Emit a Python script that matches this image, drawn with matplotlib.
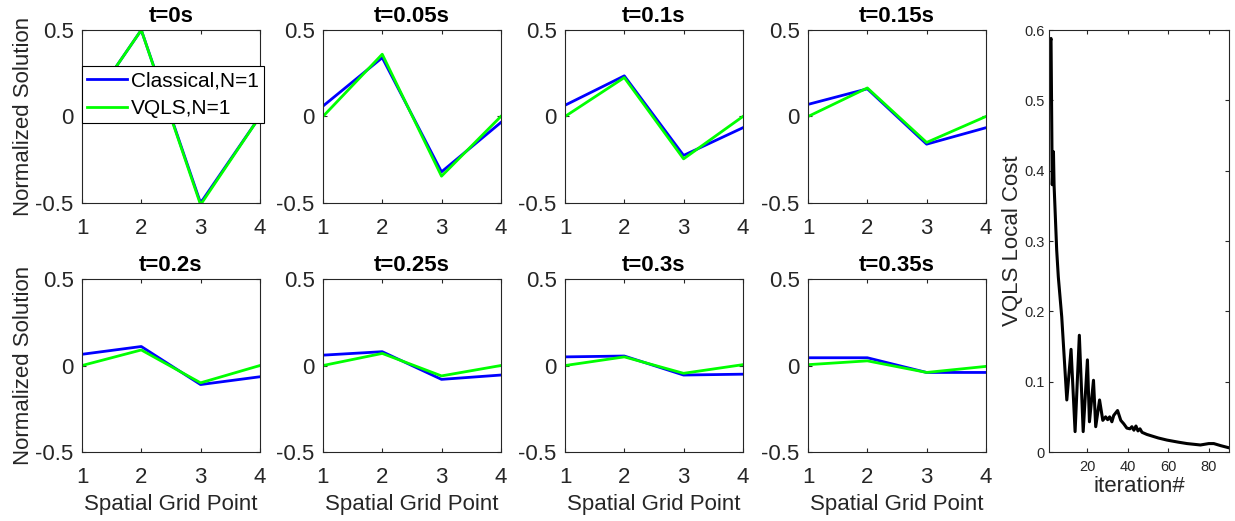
#!usr/bin/env python3

import matplotlib
matplotlib.use("Agg")
import matplotlib.pyplot as plt

plt.rcParams['font.family'] = ['Liberation Sans', 'DejaVu Sans']

# DATA
grid_points = [1, 2, 3, 4]
times = ["t=0s", "t=0.05s", "t=0.1s", "t=0.15s", "t=0.2s", "t=0.25s", "t=0.3s", "t=0.35s"]

classical = [
    [0.0, 0.50, -0.50, 0.0],
    [0.06, 0.34, -0.32, -0.035],
    [0.065, 0.235, -0.225, -0.065],
    [0.07, 0.16, -0.16, -0.065],
    [0.065, 0.11, -0.11, -0.065],
    [0.06, 0.08, -0.08, -0.055],
    [0.05, 0.055, -0.055, -0.05],
    [0.045, 0.045, -0.04, -0.04],
]
vqls = [
    [0.0, 0.50, -0.51, 0.0],
    [0.0, 0.36, -0.345, 0.0],
    [0.0, 0.225, -0.245, 0.0],
    [0.0, 0.165, -0.15, 0.0],
    [0.0, 0.09, -0.10, 0.0],
    [0.0, 0.07, -0.06, 0.0],
    [0.0, 0.05, -0.045, 0.005],
    [0.005, 0.027, -0.04, -0.005],
]

# VQLS cost history
iteration = [1, 2, 2.6, 3.2, 3.5, 4.8, 5.6, 7.3, 9.8, 11.9, 13.9, 16.0, 17.9, 20.0, 21.0,
             23.0, 24.1, 26.0, 27.6, 29, 30, 31, 32.1, 33, 34.9, 36.5, 38, 39.5, 41, 42,
             43, 44, 45, 46, 47, 49.4, 55, 59.3, 65, 69.3, 75.9, 80, 82.5, 86, 90]
cost = [0.576, 0.588, 0.38, 0.427, 0.38, 0.287, 0.249, 0.192, 0.074, 0.146, 0.029, 0.166,
        0.029, 0.131, 0.043, 0.102, 0.036, 0.074, 0.045, 0.05, 0.046, 0.05, 0.043, 0.052,
        0.059, 0.045, 0.04, 0.034, 0.033, 0.036, 0.031, 0.037, 0.03, 0.033, 0.028, 0.025,
        0.02, 0.017, 0.014, 0.012, 0.010, 0.012, 0.012, 0.009, 0.006]

TXT = '#262626'
FS = 16
lefts = [0.0664, 0.2615, 0.4575, 0.6543]
bottoms = [0.6104, 0.1324]
W, H = 0.144, 0.332

fig = plt.figure(figsize=(12.35, 5.21), dpi=100)


def style_axes(ax, tick_size, xpad, ypad):
    ax.tick_params(direction='in', top=True, right=True, labelsize=tick_size,
                   colors=TXT, length=3)
    ax.tick_params(axis='x', pad=xpad)
    ax.tick_params(axis='y', pad=ypad)
    for s in ax.spines.values():
        s.set_color(TXT)
        s.set_linewidth(0.8)


for i in range(8):
    row, col = divmod(i, 4)
    ax = fig.add_axes([lefts[col], bottoms[row], W, H])
    ax.plot(grid_points, classical[i], color='#0000ff', lw=2, label='Classical,N=1')
    ax.plot(grid_points, vqls[i], color='#00ff00', lw=2, label='VQLS,N=1')
    ax.set_xlim(1, 4)
    ax.set_ylim(-0.5, 0.5)
    ax.set_xticks([1, 2, 3, 4])
    ax.set_yticks([-0.5, 0, 0.5])
    ax.set_yticklabels(['-0.5', '0', '0.5'])
    style_axes(ax, FS, 11, 6)
    ax.set_title(times[i], fontsize=FS, fontweight='bold', pad=6)
    if col == 0:
        ax.set_ylabel('Normalized Solution', fontsize=FS, color=TXT, labelpad=1)
    if row == 1:
        ax.set_xlabel('Spatial Grid Point', fontsize=FS, color=TXT, labelpad=4)
    if i == 0:
        leg = ax.legend(loc='upper left', bbox_to_anchor=(0.0, 0.79), fontsize=15,
                        frameon=True, fancybox=False, framealpha=1, borderpad=0.25,
                        handlelength=1.9, handletextpad=0.2, labelspacing=0.4,
                        borderaxespad=0)
        leg.get_frame().set_edgecolor('black')
        leg.get_frame().set_linewidth(0.8)

ax_c = fig.add_axes([0.8494, 0.1324, 0.1457, 0.81])
ax_c.plot(iteration, cost, color='black', lw=2.2)
ax_c.set_xlim(1, 90)
ax_c.set_ylim(0, 0.6)
ax_c.set_xticks([20, 40, 60, 80])
ax_c.set_yticks([0, 0.1, 0.2, 0.3, 0.4, 0.5, 0.6])
ax_c.set_yticklabels(['0', '0.1', '0.2', '0.3', '0.4', '0.5', '0.6'])
style_axes(ax_c, 10.5, 6, 3)
ax_c.set_ylabel('VQLS Local Cost', fontsize=FS, color=TXT, labelpad=1)
ax_c.set_xlabel('iteration#', fontsize=FS, color=TXT, labelpad=1)

plt.savefig('out.png', dpi=100)
plt.close()
